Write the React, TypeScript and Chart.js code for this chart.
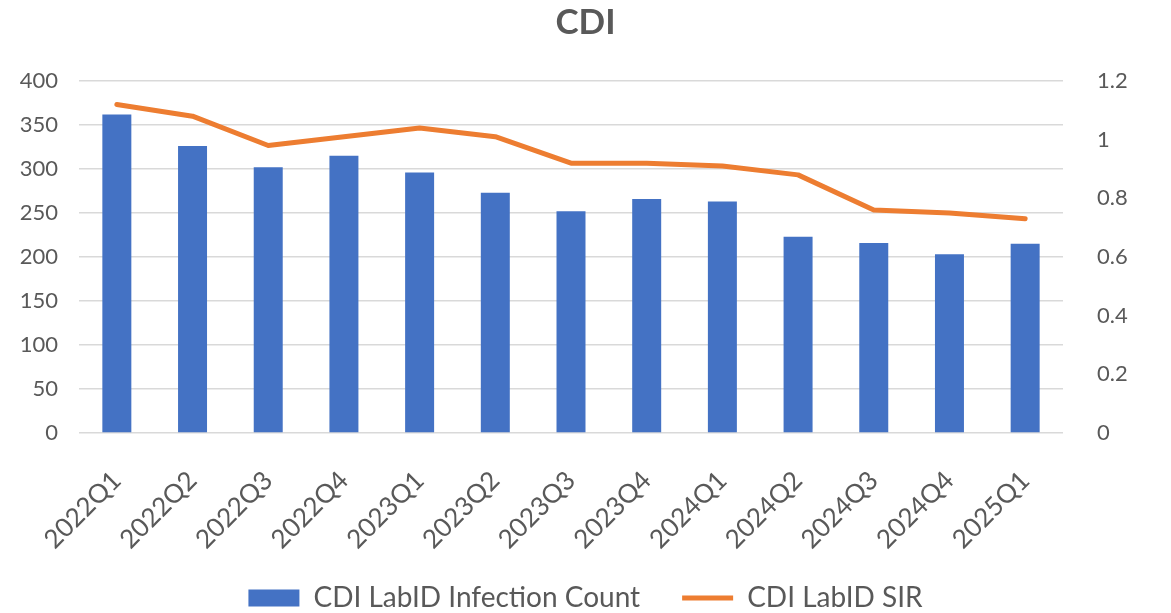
import React, { useEffect, useRef } from "react";
import { Chart, registerables } from "chart.js";

Chart.register(...registerables);

const categories = [
  "2022Q1", "2022Q2", "2022Q3", "2022Q4",
  "2023Q1", "2023Q2", "2023Q3", "2023Q4",
  "2024Q1", "2024Q2", "2024Q3", "2024Q4",
  "2025Q1",
];
const infectionCount = [362, 326, 302, 315, 296, 273, 252, 266, 263, 223, 216, 203, 215];
const sirValues = [1.12, 1.08, 0.98, 1.01, 1.04, 1.01, 0.92, 0.92, 0.91, 0.88, 0.76, 0.75, 0.73];
const leftTicks = [0, 50, 100, 150, 200, 250, 300, 350, 400];
const rightTicks = [0, 0.2, 0.4, 0.6, 0.8, 1, 1.2];

const FONT = "Lato, 'Noto Sans', sans-serif";
const TEXT = "#595959";
const GRID = "#d9d9d9";

export default function App() {
  const ref = useRef<HTMLCanvasElement>(null);

  useEffect(() => {
    if (!ref.current) return;
    const chart = new Chart(ref.current, {
      type: "bar",
      data: {
        labels: categories,
        datasets: [
          {
            type: "bar",
            label: "CDI LabID Infection Count",
            data: infectionCount,
            backgroundColor: "#4472C4",
            borderWidth: 0,
            barPercentage: 0.383,
            categoryPercentage: 1,
            yAxisID: "y",
            pointStyle: "rect",
            order: 2,
          } as any,
          {
            type: "line",
            label: "CDI LabID SIR",
            data: sirValues,
            borderColor: "#ED7D31",
            backgroundColor: "#ED7D31",
            borderWidth: 5,
            borderCapStyle: "round",
            borderJoinStyle: "round",
            pointRadius: 0,
            pointHoverRadius: 0,
            tension: 0,
            yAxisID: "y1",
            pointStyle: "line",
            order: 1,
          } as any,
        ],
      },
      options: {
        animation: false,
        responsive: false,
        maintainAspectRatio: false,
        layout: { padding: { left: 0, right: 0, top: 0, bottom: -9 } },
        plugins: {
          title: {
            display: true,
            text: "CDI",
            color: TEXT,
            font: { family: FONT, size: 35, weight: "bold" },
            padding: { top: 2, bottom: 37 },
          },
          legend: {
            position: "bottom",
            labels: {
              usePointStyle: true,
              pointStyleWidth: 51,
              boxHeight: 17,
              color: TEXT,
              font: { family: FONT, size: 28 },
              padding: 42,
              sort: (a: any, b: any) => a.datasetIndex - b.datasetIndex,
            },
          },
          tooltip: { enabled: false },
        },
        scales: {
          x: {
            grid: { display: false },
            border: { display: false },
            afterFit: (axis: any) => {
              axis.height = 109;
              axis._computeLabelArea = () => undefined;
            },
            ticks: {
              color: TEXT,
              font: { family: FONT, size: 26 },
              minRotation: 45,
              maxRotation: 45,
              padding: 24,
            },
          },
          y: {
            position: "left",
            min: leftTicks[0],
            max: leftTicks[leftTicks.length - 1],
            afterBuildTicks: (axis: any) => {
              axis.ticks = leftTicks.map((v) => ({ value: v }));
            },
            afterFit: (axis: any) => {
              axis.width = 79;
            },
            grid: { color: GRID, lineWidth: 1.5, drawTicks: false },
            border: { display: false },
            ticks: {
              color: TEXT,
              font: { family: FONT, size: 22 },
              padding: 21,
            },
          },
          y1: {
            position: "right",
            min: rightTicks[0],
            max: rightTicks[rightTicks.length - 1],
            afterBuildTicks: (axis: any) => {
              axis.ticks = rightTicks.map((v) => ({ value: v }));
            },
            afterFit: (axis: any) => {
              axis.width = 108;
            },
            grid: { display: false, drawTicks: false },
            border: { display: false },
            ticks: {
              color: TEXT,
              font: { family: FONT, size: 22 },
              padding: 34,
              callback: (v: any) => String(Math.round(Number(v) * 10) / 10),
            },
          },
        },
      },
    });
    return () => chart.destroy();
  }, []);

  return (
    <div style={{ position: "absolute", left: 0, top: 0, width: 1171, height: 613, background: "#fff" }}>
      <canvas ref={ref} width={1171} height={613} style={{ width: 1171, height: 613, display: "block" }} />
    </div>
  );
}
